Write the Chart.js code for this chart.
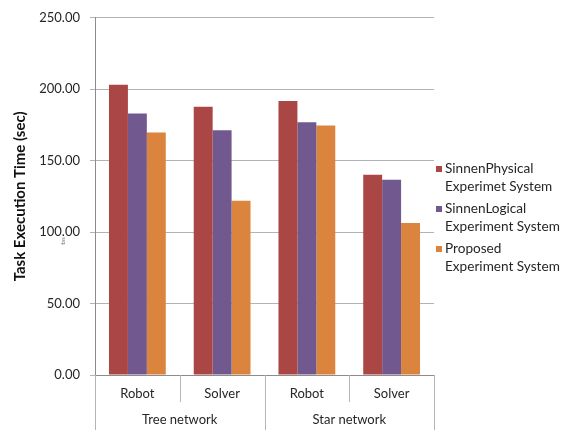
<!DOCTYPE html>
<html>
<head>
<meta charset="utf-8">
<title>Task Execution Time</title>
<script src="https://cdn.jsdelivr.net/npm/chart.js@4/dist/chart.umd.min.js"></script>
<style>
  html, body { margin: 0; padding: 0; background: #ffffff; }
  #wrap { width: 569px; height: 430px; position: relative; }
</style>
</head>
<body>
<div id="wrap"><canvas id="chart" width="569" height="430"></canvas></div>
<script>
// Sub-categories along the x axis and the network groups they belong to
const categories = ['Robot', 'Solver', 'Robot', 'Solver'];
const groups = ['Tree network', 'Star network'];
const groupSize = 2;

// Series (seconds)
const seriesLabels = [
  ['SinnenPhysical', 'Experimet System'],
  ['SinnenLogical', 'Experiment System'],
  ['Proposed', 'Experiment System']
];
const physicalTimes = [203.2, 187.8, 191.8, 140.2];
const logicalTimes = [183.0, 171.3, 176.9, 136.6];
const proposedTimes = [169.7, 122.0, 174.6, 106.4];

// Value axis
const yMin = 0;
const yMax = 250;
const yStep = 50;
const yTitle = 'Task Execution Time (sec)';
const yNote = 'tas';

const colors = ['#AA4643', '#71588F', '#DB843D'];
const FONT = 'Lato, "Open Sans", "Liberation Sans", sans-serif';
const TEXT = '#262626';
const AXIS = '#8c8c8c';

// Draws the two-level category dividers, the group names, the side legend and the small note
const decorations = {
  id: 'decorations',
  afterDraw(chart) {
    const ctx = chart.ctx;
    const x = chart.scales.x;
    const area = chart.chartArea;
    const n = categories.length;
    const step = (x.getPixelForValue(1) - x.getPixelForValue(0));
    const edge = i => x.getPixelForValue(0) - step / 2 + i * step;

    ctx.save();
    ctx.strokeStyle = '#b5b5b5';
    ctx.lineWidth = 1;
    for (let i = 0; i <= n; i++) {
      const px = Math.round(edge(i)) + 0.5;
      const isGroupEdge = i % groupSize === 0;
      ctx.beginPath();
      ctx.moveTo(px, area.bottom);
      ctx.lineTo(px, isGroupEdge ? chart.height : area.bottom + 27);
      ctx.stroke();
    }

    ctx.fillStyle = TEXT;
    ctx.font = '13px ' + FONT;
    ctx.textAlign = 'center';
    ctx.textBaseline = 'middle';
    groups.forEach((g, gi) => {
      const cx = (edge(gi * groupSize) + edge((gi + 1) * groupSize)) / 2;
      ctx.fillText(g, cx, 420);
    });

    // Legend
    const lx = 436;
    let ly = 169;
    ctx.textAlign = 'left';
    ctx.font = '13.6px ' + FONT;
    seriesLabels.forEach((lines, i) => {
      ctx.fillStyle = colors[i];
      ctx.fillRect(lx, ly - 3, 6, 6);
      ctx.fillStyle = TEXT;
      lines.forEach((t, li) => ctx.fillText(t, lx + 9, ly + li * 18));
      ly += 40;
    });

    // small rotated note beside the value axis
    ctx.save();
    ctx.translate(63, 241);
    ctx.rotate(-Math.PI / 2);
    ctx.font = '6px ' + FONT;
    ctx.fillStyle = '#7a7a7a';
    ctx.textAlign = 'center';
    ctx.fillText(yNote, 0, 0);
    ctx.restore();

    ctx.restore();
  }
};

new Chart(document.getElementById('chart'), {
  type: 'bar',
  data: {
    labels: categories,
    datasets: [
      { label: seriesLabels[0].join(' '), data: physicalTimes, backgroundColor: colors[0] },
      { label: seriesLabels[1].join(' '), data: logicalTimes, backgroundColor: colors[1] },
      { label: seriesLabels[2].join(' '), data: proposedTimes, backgroundColor: colors[2] }
    ]
  },
  options: {
    responsive: false,
    animation: false,
    devicePixelRatio: 1,
    layout: { padding: { left: 0, right: 135, top: 17, bottom: 0 } },
    datasets: {
      bar: { categoryPercentage: 0.67, barPercentage: 1, borderWidth: 0 }
    },
    plugins: {
      legend: { display: false },
      tooltip: { enabled: false }
    },
    scales: {
      x: {
        grid: { display: false },
        border: { display: true, color: AXIS, width: 1 },
        ticks: { color: TEXT, font: { family: FONT, size: 13 }, padding: 3, maxRotation: 0 },
        afterFit(scale) { scale.height = 55; }
      },
      y: {
        min: yMin,
        max: yMax,
        border: { display: true, color: AXIS, width: 1 },
        grid: { color: '#b3b3b3', tickLength: 5, drawTicks: true },
        ticks: {
          stepSize: yStep,
          color: TEXT,
          padding: 10,
          font: { family: FONT, size: 13 },
          callback: v => Number(v).toFixed(2)
        },
        title: {
          display: true,
          text: yTitle,
          color: '#111111',
          font: { family: FONT, size: 15, weight: 'bold' },
          padding: { top: 11, bottom: 0 }
        },
        afterFit(scale) { scale.width = 95; }
      }
    }
  },
  plugins: [decorations]
});
</script>
</body>
</html>
